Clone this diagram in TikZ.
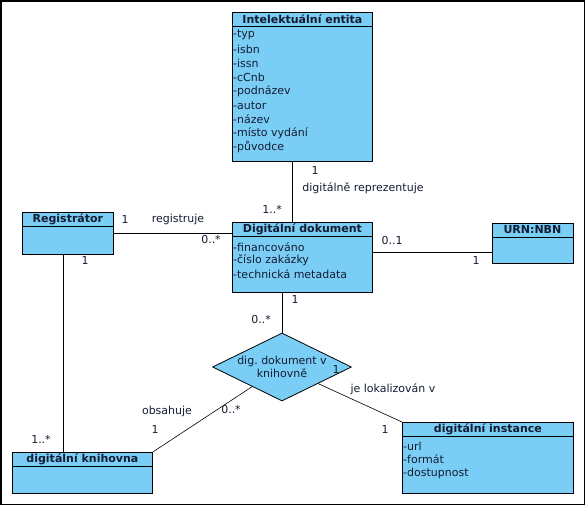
\documentclass[tikz,border=0pt]{standalone}
\usepackage{fontspec}
\setmainfont{DejaVu Sans}
\usetikzlibrary{shapes.geometric}
\definecolor{umlblue}{RGB}{122,206,245}
\definecolor{umltext}{RGB}{20,28,50}

\begin{document}
\begin{tikzpicture}[x=1pt, y=-1pt, font=\fontsize{11}{13.3}\selectfont]
    \tikzstyle{classbox}=[draw, fill=umlblue, line width=0.8pt, anchor=north west, inner sep=0pt]
    \tikzstyle{classtitle}=[draw, fill=umlblue, line width=0.8pt, anchor=north, inner sep=0pt, minimum height=14pt, font=\fontsize{11}{13}\selectfont\bfseries, text=umltext]
    \tikzstyle{attr}=[anchor=west, inner sep=1pt, text=umltext]
    \tikzstyle{mult}=[inner sep=0pt, text=umltext]
    \tikzstyle{assoc}=[line width=0.6pt]

    \useasboundingbox (0,0) rectangle (586,506);
    \draw[line width=1.5pt] (1,1) rectangle (584.5,504.5);

    % Intelektualni entita
    \node[classbox, minimum width=140pt, minimum height=149pt] (ie) at (232,12) {};
    \node[classtitle, minimum width=140pt] (ieT) at (ie.north) {Intelektuální entita};
    \foreach \a [count=\i] in {typ, isbn, issn, cCnb, podnázev, autor, název, místo vydání, původce}
        \node[attr] (ie\i) at (232, 21+14.05*\i) {-\a};

    % Digitalni dokument
    \node[classbox, minimum width=140pt, minimum height=70pt] (dd) at (232,222) {};
    \node[classtitle, minimum width=140pt] (ddT) at (dd.north) {Digitální dokument};
    \foreach \a [count=\i] in {financováno, číslo zakázky, technická metadata}
        \node[attr] (dd\i) at (232, 233.5+13.5*\i) {-\a};

    % Registrator
    \node[classbox, minimum width=91pt, minimum height=42pt] (reg) at (22,212) {};
    \node[classtitle, minimum width=91pt] (regT) at (reg.north) {Registrátor};

    % URN:NBN
    \node[classbox, minimum width=81pt, minimum height=40pt] (urn) at (491.5,222.5) {};
    \node[classtitle, minimum width=81pt] (urnT) at (urn.north) {URN:NBN};

    % digitalni knihovna
    \node[classbox, minimum width=140pt, minimum height=40.5pt] (kn) at (12,452) {};
    \node[classtitle, minimum width=140pt] (knT) at (kn.north) {digitální knihovna};

    % digitalni instance
    \node[classbox, minimum width=171pt, minimum height=70.5pt] (inst) at (402,422) {};
    \node[classtitle, minimum width=171pt] (instT) at (inst.north) {digitální instance};
    \foreach \a [count=\i] in {url, formát, dostupnost}
        \node[attr] (inst\i) at (402, 432.3+13.6*\i) {-\a};

    % vazebni entita
    \node[diamond, draw, fill=umlblue, line width=0.8pt, minimum width=139pt, minimum height=68pt, inner sep=0pt] (dia) at (282,367) {};
    \node[align=center, text=umltext, inner sep=0pt] (diaT) at (dia) {dig.\ dokument v\\knihovně};

    % asociace
    \draw[assoc] ([xshift=-10pt]ie.south) -- ([xshift=-10pt]dd.north);
    \draw[assoc] (reg.east) -- (reg.east -| dd.west);
    \draw[assoc] ([yshift=5pt]dd.east) -- ([yshift=5pt]dd.east -| urn.west);
    \draw[assoc] (dia.north |- dd.south) -- (dia.north);
    \draw[assoc] ([xshift=-5pt]reg.south) -- ([xshift=-5pt]reg.south |- kn.north);
    \draw[assoc] (kn.north east) -- (dia);
    \draw[assoc] (inst.north west) -- (dia);

    % popisky a kardinality
    \node[mult] (m1) at (315,170) {1};
    \node[mult] (l1) at (363,188) {digitálně reprezentuje};
    \node[mult] (m2) at (272,209) {1..*};
    \node[mult] (m3) at (125,219) {1};
    \node[mult] (l2) at (178,219) {registruje};
    \node[mult] (m4) at (211,239) {0..*};
    \node[mult] (m5) at (392,240) {0..1};
    \node[mult] (m6) at (476,260) {1};
    \node[mult] (m7) at (85,260) {1};
    \node[mult] (m8) at (295,299) {1};
    \node[mult] (m9) at (261,319) {0..*};
    \node[mult] (m10) at (336,369) {1};
    \node[mult] (l3) at (393,389) {je lokalizován v};
    \node[mult] (l4) at (167,411) {obsahuje};
    \node[mult] (m11) at (231,409) {0..*};
    \node[mult] (m12) at (155,429) {1};
    \node[mult] (m13) at (385,429) {1};
    \node[mult] (m14) at (41,439) {1..*};
\end{tikzpicture}
\end{document}
